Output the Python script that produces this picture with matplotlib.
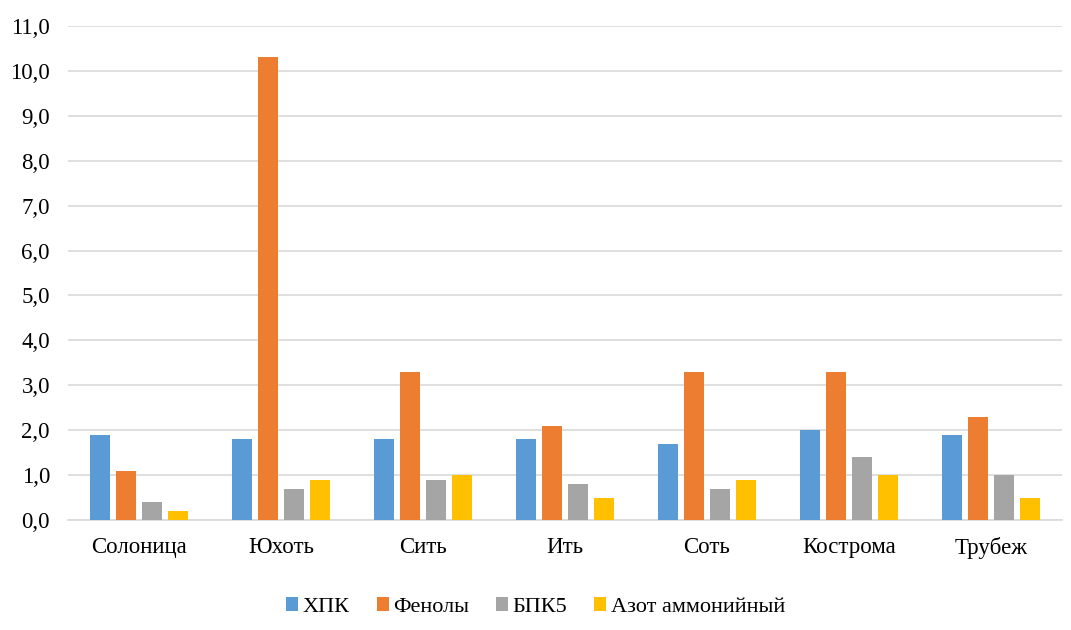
import matplotlib
matplotlib.use("Agg")
import matplotlib.pyplot as plt
import numpy as np
from matplotlib.ticker import FuncFormatter

categories = ["Солоница", "Юхоть", "Сить", "Ить", "Соть", "Кострома", "Трубеж"]
series_names = ["ХПК", "Фенолы", "БПК5", "Азот аммонийный"]
hpk = [1.9, 1.8, 1.8, 1.8, 1.7, 2.0, 1.9]
fenoly = [1.1, 10.3, 3.3, 2.1, 3.3, 3.3, 2.3]
bpk5 = [0.4, 0.7, 0.9, 0.8, 0.7, 1.4, 1.0]
azot = [0.2, 0.9, 1.0, 0.5, 0.9, 1.0, 0.5]
colors = ["#5B9BD5", "#ED7D31", "#A5A5A5", "#FFC000"]

plt.rcParams['font.family'] = ['Liberation Serif', 'DejaVu Serif']

fig = plt.figure(figsize=(10.71, 6.30), dpi=100)
ax = fig.add_axes([68/1071, 1-520/630, (1062-68)/1071, (520-26)/630])

x = np.arange(len(categories))
w = 0.14
step = 0.185
for i, (vals, name, c) in enumerate(zip([hpk, fenoly, bpk5, azot], series_names, colors)):
    ax.bar(x + (i - 1.5) * step, vals, width=w, color=c, label=name, zorder=3)

ax.set_xlim(-0.5, len(categories) - 0.5)
ax.set_ylim(0, 11)
ax.set_yticks(np.arange(0, 12, 1))
ax.yaxis.set_major_formatter(FuncFormatter(lambda v, p: f"{v:.1f}".replace(".", ",")))
ax.set_xticks(x)
ax.set_xticklabels(categories)
ax.grid(axis='y', color='#D9D9D9', linewidth=1.2, zorder=0)
for s in ['top', 'right', 'left']:
    ax.spines[s].set_visible(False)
ax.spines['bottom'].set_color('#D9D9D9')
ax.spines['bottom'].set_linewidth(1.2)
ax.tick_params(axis='both', length=0, labelsize=16.5, colors='black')
ax.tick_params(axis='x', pad=12)
ax.tick_params(axis='y', pad=13)

fig.legend(loc='center', bbox_to_anchor=(0.5, 1-607/630), ncol=4, frameon=False,
           fontsize=16, handlelength=0.55, handleheight=0.55, handletextpad=0.2,
           columnspacing=1.2)

fig.savefig("out.png", dpi=100)
